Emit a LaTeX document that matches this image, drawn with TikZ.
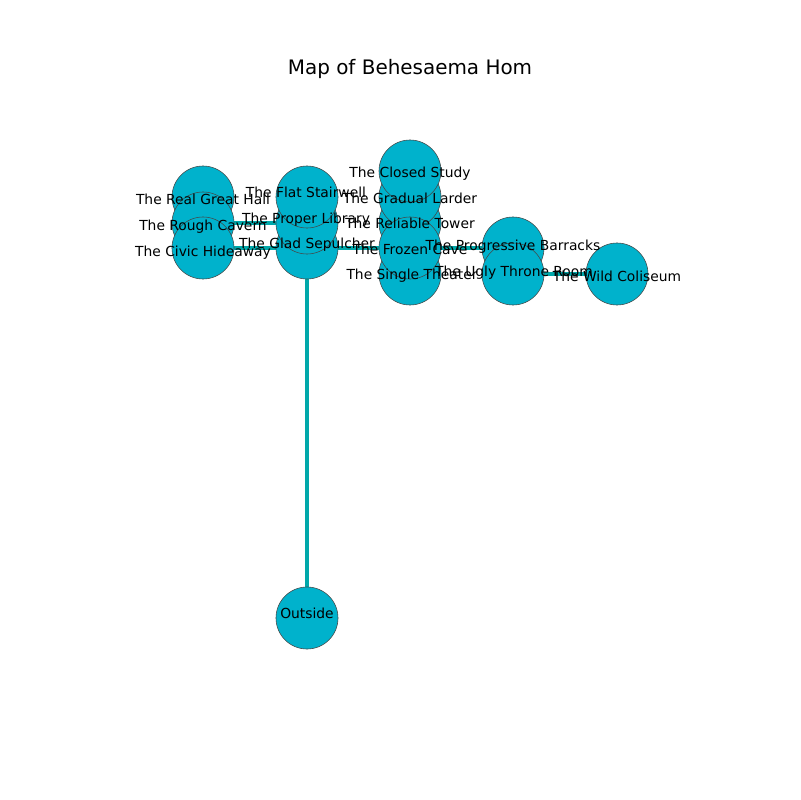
\documentclass[tikz,border=0pt]{standalone}
\usepackage{fontspec}
\setmainfont{DejaVu Sans}
\pgfdeclarelayer{edges}
\pgfdeclarelayer{labels}
\pgfsetlayers{edges,main,labels}
\definecolor{roomfill}{RGB}{0,178,204}
\definecolor{roomedge}{RGB}{70,70,70}
\definecolor{passage}{RGB}{0,168,170}
\tikzset{
  room/.style={circle, fill=roomfill, draw=roomedge, line width=0.4pt,
    minimum size=0.62in, inner sep=0pt},
  roomlabel/.style={font=\fontsize{10}{12}\selectfont, inner sep=0pt, text=black,
    text height=7.6pt, text depth=2.1pt, yshift=-1.4pt},
  link/.style={draw=passage, line width=3.6pt},
}
\begin{document}
\begin{tikzpicture}[x=0.01in, y=-0.01in]
\useasboundingbox (0,0) rectangle (800,800);
\node[font=\fontsize{14.4}{17}\selectfont, inner sep=0pt, text height=10.9pt, text depth=3pt, yshift=-1.4pt] (title) at (410,67) {Map of Behesaema Hom};

% rooms, drawn in stacking order
\node[room] (realhall) at (203,197) {};
\node[room] (rough) at (203,223) {};
\node[room] (civic) at (203,248) {};

\node[room] (glad) at (307,248) {};
\node[room] (library) at (307,223) {};
\node[room] (stair) at (307,197) {};
\node[room] (outside) at (307,618) {};

\node[room] (single) at (410,274) {};
\node[room] (tower) at (410,223) {};
\node[room] (larder) at (410,197) {};
\node[room] (study) at (410,171) {};
\node[room] (frozen) at (410,248) {};

\node[room] (barracks) at (513,248) {};
\node[room] (throne) at (513,274) {};

\node[room] (coliseum) at (617,274) {};

% passages between rooms
\begin{pgfonlayer}{edges}
\draw[link] (rough.center) -- (library.center);
\draw[link] (civic.center) -- (glad.center);
\draw[link] (glad.center) -- (frozen.center);
\draw[link] (frozen.center) -- (barracks.center);
\draw[link] (throne.center) -- (coliseum.center);
\draw[link] (outside.center) -- (glad.center);
\end{pgfonlayer}

% room names
\begin{pgfonlayer}{labels}
\node[roomlabel] (lrealhall) at (203,199) {The Real Great Hall};
\node[roomlabel] (lrough) at (203,225) {The Rough Cavern};
\node[roomlabel] (lcivic) at (203,251) {The Civic Hideaway};
\node[roomlabel] (lstair) at (306,192) {The Flat Stairwell};
\node[roomlabel] (llibrary) at (306,218) {The Proper Library};
\node[roomlabel] (lglad) at (307,243) {The Glad Sepulcher};
\node[roomlabel] (lstudy) at (410,172) {The Closed Study};
\node[roomlabel] (llarder) at (410,198) {The Gradual Larder};
\node[roomlabel] (ltower) at (410,223) {The Reliable Tower};
\node[roomlabel] (lfrozen) at (410,249) {The Frozen Cave};
\node[roomlabel] (lsingle) at (412,274) {The Single Theater};
\node[roomlabel] (lbarracks) at (513,245) {The Progressive Barracks};
\node[roomlabel] (lthrone) at (514,271) {The Ugly Throne Room};
\node[roomlabel] (lcoliseum) at (617,276) {The Wild Coliseum};
\node[roomlabel] (loutside) at (307,613) {Outside};
\end{pgfonlayer}
\end{tikzpicture}
\end{document}
